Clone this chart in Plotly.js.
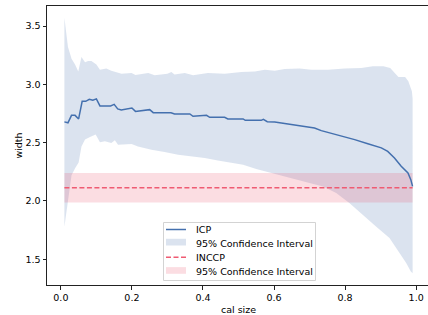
<!DOCTYPE html>
<html>
<head>
<meta charset="utf-8">
<script src="https://cdn.plot.ly/plotly-3.0.1.min.js"></script>
<style>
html,body{margin:0;padding:0;overflow:hidden;background:#fff;}
#chart{width:431px;height:315px;}
</style>
</head>
<body>
<div id="chart"></div>
<script>
// ICP mean width
var icpX = [0.01,0.02,0.03,0.04,0.05,0.06,0.07,0.08,0.09,0.10,0.11,0.12,0.14,0.15,0.16,0.17,0.19,0.20,0.21,0.25,0.26,0.31,0.32,0.363,0.372,0.41,0.419,0.461,0.47,0.513,0.519,0.564,0.57,0.581,0.602,0.639,0.672,0.686,0.714,0.733,0.752,0.789,0.827,0.864,0.902,0.92,0.939,0.958,0.977,0.985,0.99];
var icpY = [2.678,2.67,2.734,2.734,2.703,2.854,2.854,2.871,2.863,2.875,2.815,2.815,2.815,2.828,2.789,2.78,2.79,2.797,2.768,2.783,2.757,2.757,2.746,2.746,2.726,2.734,2.717,2.717,2.703,2.703,2.691,2.691,2.70,2.68,2.677,2.66,2.648,2.637,2.626,2.603,2.588,2.56,2.526,2.491,2.455,2.425,2.369,2.297,2.24,2.183,2.125];

// ICP 95% interval, upper edge
var icpUpX = [0.01,0.02,0.025,0.03,0.04,0.049,0.058,0.068,0.077,0.086,0.10,0.11,0.128,0.142,0.171,0.199,0.21,0.246,0.264,0.30,0.311,0.32,0.349,0.372,0.414,0.461,0.508,0.546,0.574,0.602,0.63,0.672,0.705,0.752,0.799,0.846,0.878,0.908,0.927,0.95,0.969,0.978,0.988,0.99];
var icpUpY = [3.57,3.32,3.27,3.22,3.17,3.11,3.235,3.19,3.20,3.20,3.17,3.126,3.135,3.117,3.09,3.098,3.08,3.098,3.077,3.09,3.106,3.085,3.098,3.077,3.098,3.09,3.106,3.11,3.126,3.117,3.132,3.135,3.126,3.126,3.135,3.14,3.154,3.154,3.14,3.063,3.063,3.026,2.94,2.88];

// ICP 95% interval, lower edge
var icpLoX = [0.01,0.02,0.03,0.04,0.05,0.058,0.068,0.082,0.098,0.11,0.124,0.142,0.152,0.161,0.199,0.217,0.255,0.292,0.33,0.368,0.405,0.442,0.48,0.513,0.55,0.588,0.625,0.663,0.70,0.738,0.775,0.812,0.85,0.887,0.925,0.953,0.972,0.985,0.99];
var icpLoY = [1.78,2.0,2.22,2.28,2.33,2.468,2.526,2.549,2.57,2.503,2.511,2.497,2.52,2.483,2.489,2.468,2.44,2.42,2.397,2.383,2.369,2.348,2.326,2.31,2.274,2.24,2.211,2.183,2.154,2.125,2.069,1.983,1.883,1.782,1.683,1.554,1.468,1.396,1.38];

// INCCP mean width and interval
var inccpX = [0.01,0.99];
var inccpY = [2.113,2.113];
var inccpLo = [1.988,1.988];
var inccpHi = [2.24,2.24];

var legendLabels = ["ICP","95% Confidence Interval","INCCP","95% Confidence Interval"];
var xTicks = [0.0,0.2,0.4,0.6,0.8,1.0];
var yTicks = [1.5,2.0,2.5,3.0,3.5];

var BLUE = '#4470AE', BLUE_FILL = 'rgba(76,114,176,0.2)';
var RED = '#EF5B72', RED_FILL = 'rgba(235,85,110,0.2)';
var FONT = 'DejaVu Sans, sans-serif', FS = 9.5;

function rev(a){ return a.slice().reverse(); }

var traces = [
  {x: icpUpX.concat(rev(icpLoX)), y: icpUpY.concat(rev(icpLoY)), type:'scatter', mode:'lines',
   fill:'toself', fillcolor: BLUE_FILL, line:{width:0, color:BLUE_FILL}, name: legendLabels[1], hoverinfo:'skip'},
  {x: inccpX.concat(rev(inccpX)), y: inccpHi.concat(rev(inccpLo)), type:'scatter', mode:'lines',
   fill:'toself', fillcolor: RED_FILL, line:{width:0, color:RED_FILL}, name: legendLabels[3], hoverinfo:'skip'},
  {x: icpX, y: icpY, type:'scatter', mode:'lines', line:{color:BLUE, width:1.5}, name: legendLabels[0]},
  {x: inccpX, y: inccpY, type:'scatter', mode:'lines', line:{color:RED, width:1.5, dash:'5px,2.5px'}, name: legendLabels[2]}
];

// plot area geometry (px) for the hand-built legend
var L = 47, W = 383, T = 6, H = 279;
function px(x){ return (x - L) / W; }
function py(y){ return (T + H - y) / H; }

var shapes = [
  {type:'rect', xref:'paper', yref:'paper', x0:px(163.5), x1:px(315.5), y0:py(280.5), y1:py(222.5),
   fillcolor:'rgba(255,255,255,0.8)', line:{color:'#d3d3d3', width:1}, layer:'above'},
  {type:'line', xref:'paper', yref:'paper', x0:px(166), x1:px(186), y0:py(229.5), y1:py(229.5),
   line:{color:BLUE, width:1.5}, layer:'above'},
  {type:'rect', xref:'paper', yref:'paper', x0:px(166), x1:px(186), y0:py(245.5), y1:py(238.8),
   fillcolor:BLUE_FILL, line:{width:0}, layer:'above'},
  {type:'line', xref:'paper', yref:'paper', x0:px(166), x1:px(186), y0:py(257.3), y1:py(257.3),
   line:{color:RED, width:1.5, dash:'5px,2.5px'}, layer:'above'},
  {type:'rect', xref:'paper', yref:'paper', x0:px(166), x1:px(186), y0:py(273.8), y1:py(267.1),
   fillcolor:RED_FILL, line:{width:0}, layer:'above'}
];
var textY = [229.5, 243.6, 257.2, 271.2];
var annotations = legendLabels.map(function(t, i){
  return {text:t, xref:'paper', yref:'paper', x:px(193.5), y:py(textY[i]), xanchor:'left', yanchor:'middle',
          showarrow:false, font:{family:FONT, size:FS, color:'#000'}};
});

var axisCommon = {
  showgrid:false, zeroline:false, showline:true, linecolor:'#222', linewidth:1,
  ticks:'outside', ticklen:3.5, tickwidth:1, tickcolor:'#222', mirror:true,
  tickfont:{family:FONT, size:FS, color:'#000'}, tickformat:'.1f'
};

var layout = {
  width:431, height:315,
  margin:{l:L, r:431-L-W, t:T, b:315-T-H, pad:0},
  paper_bgcolor:'#fff', plot_bgcolor:'#fff',
  showlegend:false,
  font:{family:FONT, size:FS, color:'#000'},
  xaxis: Object.assign({}, axisCommon, {range:[-0.039,1.039], tickvals:xTicks,
    title:{text:'cal size', font:{family:FONT, size:FS, color:'#000'}, standoff:5}}),
  yaxis: Object.assign({}, axisCommon, {range:[1.2797,3.6715], tickvals:yTicks,
    title:{text:'width', font:{family:FONT, size:FS, color:'#000'}, standoff:1}}),
  shapes: shapes,
  annotations: annotations
};

Plotly.newPlot('chart', traces, layout, {staticPlot:true, displayModeBar:false});
</script>
</body>
</html>
